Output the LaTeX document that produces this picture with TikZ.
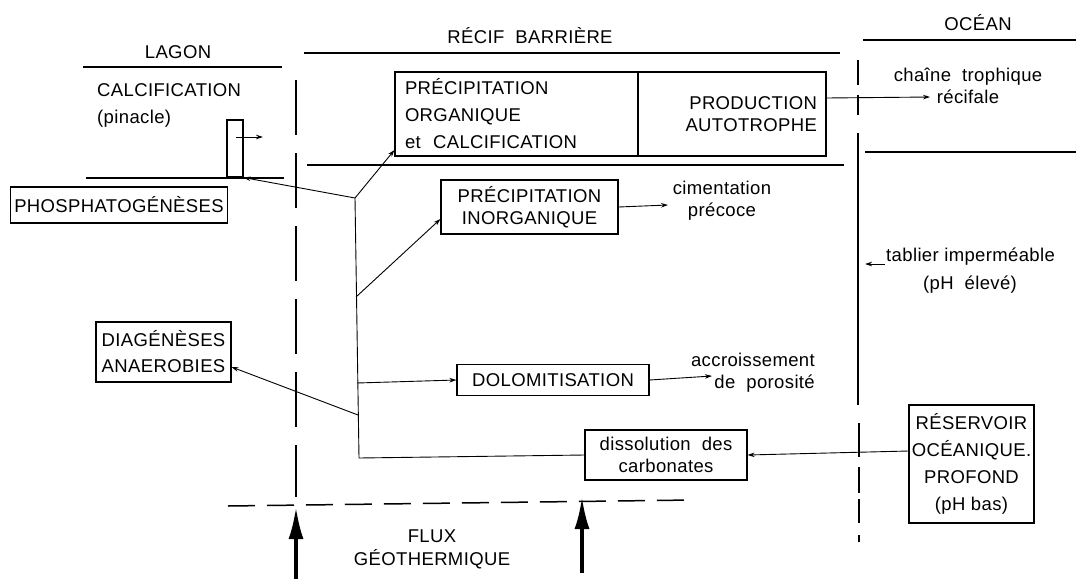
\documentclass[tikz,border=0pt]{standalone}
\usepackage{fontspec}
\setmainfont[LetterSpace=2]{Liberation Sans}
\usetikzlibrary{arrows.meta}
\newcommand\fsz{\fontsize{18.5}{27}\selectfont}
\begin{document}
\begin{tikzpicture}[x=1pt,y=-1pt,
  every node/.style={font=\fsz},
  box/.style={draw, line width=1.1pt, inner sep=0pt, align=center},
  txt/.style={align=center, inner sep=0pt},
  sepline/.style={line width=1.5pt},
  arr/.style={-{Stealth[length=7pt,width=4.5pt]}, line width=0.9pt},
  link/.style={line width=0.9pt},
  flux/.style={-{Latex[length=32pt,width=15pt]}, line width=3.4pt}]
\useasboundingbox (0,0) rectangle (1076,579);
\fill[white] (0,0) rectangle (1076,579);

% headers
\node[txt] (hlagon) at (178,52) {LAGON};
\node[txt] (hrecif) at (530,36) {RÉCIF\ \ BARRIÈRE};
\node[txt] (hocean) at (978,23) {OCÉAN};

% horizontal separators
\draw[sepline] (83,67) -- (282,67);
\draw[sepline] (304,53) -- (840,53);
\draw[sepline] (863,40) -- (1076,40);
\draw[sepline] (86,178) -- (284,178);
\draw[sepline] (307,165) -- (844,165);
\draw[sepline] (865,152) -- (1076,152);

% left dashed separator
\draw[sepline, dash pattern=on 55pt off 18pt] (296,80) -- (296,497);
% right separator
\draw[sepline] (858,60) -- (858,85);
\draw[sepline] (858,95) -- (858,115);
\draw[sepline] (858,133) -- (858,405);
\draw[sepline] (859,423) -- (859,457);
\draw[sepline] (859,467) -- (859,493);
\draw[sepline] (859,499) -- (859,523);
\draw[sepline] (859,535) -- (859,542);
% bottom dashed
\draw[sepline, dash pattern=on 27pt off 12pt] (228,506) -- (692,500);

% lagoon
\node[txt, align=left, anchor=west] (calc) at (97,105) {CALCIFICATION\\(pinacle)};
\node[draw, line width=1.1pt, minimum width=16pt, minimum height=57pt, inner sep=0pt] (pin) at (235,148.5) {};
\coordinate (pinarr) at (263,137);
\draw[arr] (236,137) -- (pinarr);
\node[box, minimum width=217pt, minimum height=36pt] (phos) at (119,205) {PHOSPHATOGÉNÈSES};
\node[box, minimum width=135pt, minimum height=60pt] (diag) at (163.5,352) {DIAGÉNÈSES\\[-1pt]ANAEROBIES};

% reef top box
\node[box, text width=223pt, inner xsep=10pt, minimum height=84pt, align=left] (orga) at (516.5,114) {PRÉCIPITATION\\ORGANIQUE\\et\ \ CALCIFICATION};
\node[box, text width=170pt, inner xsep=9pt, minimum height=84pt, align=right] (prod) at (732,114) {PRODUCTION\\[-5pt]AUTOTROPHE};
\coordinate (chainend) at (930,97);
\node[txt] (chain) at (968,86) {chaîne\ \ trophique\\[-5pt]récifale};
\draw[arr] (prod.east |- 0,98) -- (chainend);

% reef boxes
\node[box, minimum width=177pt, minimum height=54pt] (inorg) at (529.5,207) {PRÉCIPITATION\\[-5pt]INORGANIQUE};
\node[txt] (cim) at (722,201) {cimentation\\[-5pt]précoce};
\coordinate (cimend) at (668,205);
\draw[arr] (inorg.east) -- (cimend);

\node[box, minimum width=192pt, minimum height=31pt] (dolo) at (553,380) {DOLOMITISATION};
\node[txt, align=right, anchor=east] (accr) at (815,373) {accroissement\\[-5pt]de\ \ porosité};
\coordinate (accrend) at (712,376);
\draw[arr] (dolo.east) -- (accrend);

\node[box, minimum width=162pt, minimum height=50pt] (diss) at (666,455) {dissolution\ \ des\\[-5pt]carbonates};

% ocean
\node[txt, anchor=west] (tab) at (886,257) {tablier\ imperméable};
\node[txt] (ph) at (970,285) {(pH\ \ élevé)};
\coordinate (tabend) at (865,264);
\draw[arr] (885,264) -- (tabend);
\node[box, minimum width=125pt, minimum height=118pt] (res) at (971.5,464) {RÉSERVOIR\\OCÉANIQUE.\\PROFOND\\(pH bas)};
\draw[arr] ([yshift=13pt]res.west) -- (diss.east);

% fork network
\coordinate (fork) at (355,198);
\coordinate (vA) at (356,297);
\coordinate (vB) at (357,383);
\coordinate (vC) at (358,415);
\coordinate (corner) at (359,458);
\draw[arr] (fork) -- (pin.south east);
\draw[arr] (fork) -- (orga.west |- 0,150);
\draw[link] (fork) -- (corner) -- (diss.west);
\draw[arr] (vA) -- ([yshift=-12pt]inorg.west);
\draw[arr] (vB) -- (dolo.west);
\draw[arr] (vC) -- ([yshift=-15pt]diag.east);

% geothermal flux
\coordinate (f1s) at (296,579);
\coordinate (f1e) at (296,507);
\coordinate (f2s) at (582,573);
\coordinate (f2e) at (582,497);
\draw[flux] (f1s) -- (f1e);
\draw[flux] (f2s) -- (f2e);
\node[txt] (flux) at (432,549) {FLUX\\[-4pt]GÉOTHERMIQUE};
\end{tikzpicture}
\end{document}
